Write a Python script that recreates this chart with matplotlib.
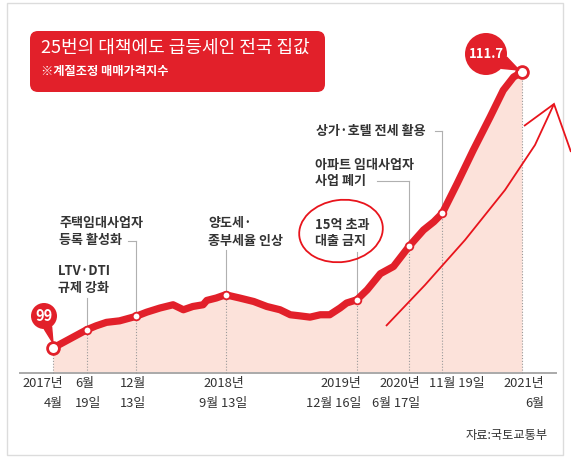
import numpy as np
import matplotlib
matplotlib.use('Agg')
import matplotlib.pyplot as plt
from matplotlib.patches import FancyBboxPatch, Circle, Polygon, Rectangle, Ellipse, PathPatch
from matplotlib.path import Path
from matplotlib.transforms import Affine2D

plt.rcParams['font.family'] = ['Noto Sans CJK KR', 'DejaVu Sans']

# ---------------- data ----------------
title = '25번의 대책에도 급등세인 전국 집값'
subtitle = '※계절조정 매매가격지수'
source = '자료:국토교통부'

# months since April 2017 (positions as drawn in the chart) and index values
months = [0, 3.6, 4.6, 5.7, 7.1, 8.2, 8.8, 10.0, 11.4, 12.8, 13.9, 14.9, 16.0, 16.4,
          17.4, 18.4, 19.9, 21.4, 22.8, 24.2, 25.3, 26.3, 27.4, 28.5, 29.5, 30.6,
          31.3, 32.4, 33.5, 34.9, 36.3, 38.0, 39.5, 40.6, 41.5, 43.1, 44.8, 46.6,
          48.0, 49.1, 50.0]
index_values = [99.00, 99.84, 100.02, 100.18, 100.25, 100.38, 100.45, 100.65, 100.84,
                100.99, 100.76, 100.91, 100.99, 101.19, 101.30, 101.45, 101.30, 101.14,
                100.91, 100.76, 100.53, 100.48, 100.42, 100.53, 100.53, 100.84, 101.07,
                101.22, 101.68, 102.42, 102.75, 103.70, 104.43, 104.81, 105.20, 106.58,
                108.10, 109.63, 110.86, 111.47, 111.70]

event_months = [0, 3.6, 8.8, 18.4, 32.4, 38.0, 41.5, 50.0]
tick_line1 = ['2017년', '6월', '12월', '2018년', '2019년', '2020년', '11월 19일', '2021년']
tick_line2 = ['4월', '19일', '13일', '9월 13일', '12월 16일', '6월 17일', '', '6월']

event_labels = [None,
                ['LTV·DTI', '규제 강화'],
                ['주택임대사업자', '등록 활성화'],
                ['양도세·', '종부세율 인상'],
                ['15억 초과', '대출 금지'],
                ['아파트 임대사업자', '사업 폐기'],
                ['상가·호텔 전세 활용'],
                None]

start_label = '99'
end_label = '111.7'

# ---------------- layout (pixels) ----------------
W, H = 571, 463
X0PX, MPX = 53.0, 9.38          # px of month 0, px per month
Y0PX, VPX = 348.0, 21.73        # px of value 99, px per index point
BASE_PX = 373.0

def dx(px):
    return (px - X0PX) / MPX

def dy(py):
    return 99 + (Y0PX - py) / VPX

RED = '#e2202a'
FILL = '#fce2da'
TXT = '#333333'
GRAY = '#9a9a9a'

fig = plt.figure(figsize=(W / 100, H / 100), dpi=100)
ax = fig.add_axes([0, 0, 1, 1])
ax.set_xlim(dx(0), dx(W))
ax.set_ylim(dy(H), dy(0))
ax.axis('off')

PIX = Affine2D().scale(0.01, -0.01).translate(0, H / 100) + fig.dpi_scale_trans

# frame
fig.patches.append(Rectangle((7, 3), 556, 452, transform=PIX, fill=False,
                             edgecolor='#dcdcdc', lw=1.0))

base = dy(BASE_PX)
x = np.array(months)
v = np.array(index_values)

ax.fill_between(x, base, v, color=FILL, lw=0, zorder=1)
ax.plot([dx(20), dx(556)], [base, base], color='#aaaaaa', lw=1.4, zorder=2)

ev_x = np.array(event_months)
ev_y = np.interp(ev_x, x, v)

# dotted guides below the line
for ex, ey in zip(ev_x, ev_y):
    ax.plot([ex, ex], [base, ey], color=GRAY, lw=0.8, ls=(0, (1, 1.6)), zorder=2)

ax.plot(x, v, color=RED, lw=5.2, solid_capstyle='round', solid_joinstyle='round', zorder=4)

# event markers
ax.plot(ev_x[1:-1], ev_y[1:-1], 'o', ms=5.5, mfc='white', mec=RED, mew=1.3, zorder=5)
ax.plot(ev_x[[0, -1]], ev_y[[0, -1]], 'o', ms=8.5, mfc='white', mec=RED, mew=2.0, zorder=6)

# labels + leaders (pixel positions for text)
label_pos = {1: (58, [271, 288], None, 298),
             2: (59, [223, 240], 128, 241),
             3: (208, [223, 241], None, 250),
             4: (315, [225, 241], None, 252),
             5: (315, [165, 181], 377, 181),
             6: (316, [131], 435, 131)}
for i, (lx, lys, bx, top) in label_pos.items():
    for line, ly in zip(event_labels[i], lys):
        ax.text(dx(lx), dy(ly), line, fontsize=9.4, fontweight='bold', color=TXT,
                ha='left', va='center', zorder=7)
    ex, ey = ev_x[i], ev_y[i]
    ax.plot([ex, ex], [ey, dy(top)], color='#b0b0b0', lw=0.8, zorder=3)
    if bx is not None:
        ax.plot([dx(bx), ex], [dy(top), dy(top)], color='#b0b0b0', lw=0.8, zorder=3)

# tick labels under the axis
tick_align = ['right', 'left', 'center', 'center', 'right', 'right', 'left', 'right']
tick_off = [10, -12, -3, -2, 4, 11, -13, 22]
for ex, l1, l2, ha, off in zip(ev_x, tick_line1, tick_line2, tick_align, tick_off):
    xx = dx(X0PX + ex * MPX + off)
    ax.text(xx, dy(384), l1, fontsize=9.3, color=TXT, ha=ha, va='center')
    if l2:
        ax.text(xx, dy(403), l2, fontsize=9.3, color=TXT, ha=ha, va='center')

# callouts
def callout(cx, cy, r, tip, text, fs):
    tx, ty = tip
    d = np.array([tx - cx, ty - cy], float)
    ang = np.arctan2(d[1], d[0])
    w = 0.30
    p1 = (cx + r * np.cos(ang - w), cy + r * np.sin(ang - w))
    p2 = (cx + r * np.cos(ang + w), cy + r * np.sin(ang + w))
    fig.patches.append(Polygon([p1, p2, (tx, ty)], closed=True, transform=PIX,
                               facecolor=RED, edgecolor=RED, lw=1, zorder=5))
    fig.patches.append(Circle((cx, cy), r, transform=PIX, facecolor=RED,
                              edgecolor='none', zorder=5))
    fig.text(cx / W, 1 - cy / H, text, color='white', fontsize=fs, fontweight='bold',
             ha='center', va='center', zorder=6)

callout(44, 316, 13, (X0PX + ev_x[0] * MPX, Y0PX - (ev_y[0] - 99) * VPX - 5), start_label, 10.5)
callout(486, 54, 21, (X0PX + ev_x[-1] * MPX - 3, Y0PX - (ev_y[-1] - 99) * VPX - 2), end_label, 9.4)

# title box
fig.patches.append(FancyBboxPatch((30, 31), 295, 61, transform=PIX,
                                  boxstyle='round,pad=0,rounding_size=8',
                                  facecolor=RED, edgecolor='none'))
fig.text(41 / W, 1 - 48 / H, title, color='white', fontsize=13.0, fontweight='medium',
         ha='left', va='center')
fig.text(41 / W, 1 - 72 / H, subtitle, color='white', fontsize=8.8, fontweight='bold',
         ha='left', va='center')

fig.text(548 / W, 1 - 436 / H, source, color=TXT, fontsize=8.8, ha='right', va='center')

# hand-drawn red markup from the screenshot
MARK = '#e8141c'
fig.patches.append(Ellipse((341, 231), 84, 62, angle=-8, transform=PIX, fill=False,
                           edgecolor=MARK, lw=1.3))
shaft = [(386, 326), (425, 285), (465, 240), (505, 190), (535, 145), (554, 104)]
fig.patches.append(PathPatch(Path(shaft), transform=PIX, fill=False, edgecolor=MARK, lw=1.3))
head = [(524, 126), (554, 104), (571, 152)]
fig.patches.append(PathPatch(Path(head), transform=PIX, fill=False, edgecolor=MARK, lw=1.3))

fig.savefig('out.png', dpi=100)
